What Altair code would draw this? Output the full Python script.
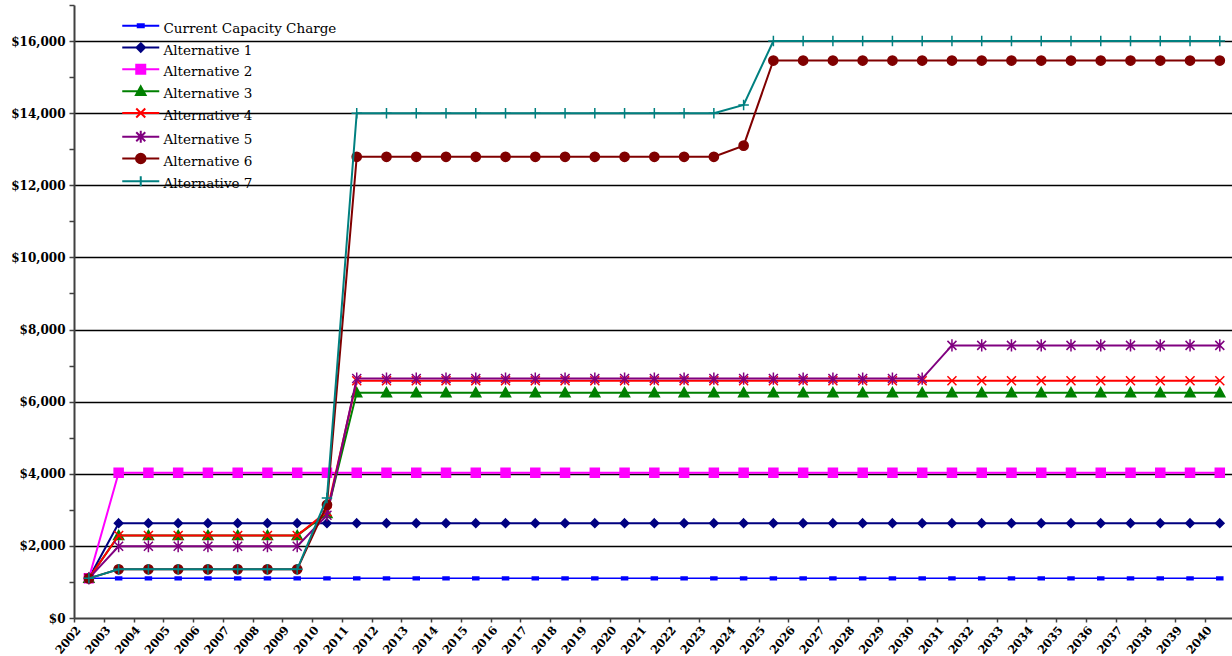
import altair as alt
import pandas as pd

# Capacity charge by year and alternative
years = list(range(2002, 2041))

series_names = [
    "Current Capacity Charge",
    "Alternative 1",
    "Alternative 2",
    "Alternative 3",
    "Alternative 4",
    "Alternative 5",
    "Alternative 6",
    "Alternative 7",
]

current_capacity = [1100, 1100, 1100, 1100, 1100, 1100, 1100, 1100, 1100, 1100,
                    1100, 1100, 1100, 1100, 1100, 1100, 1100, 1100, 1100, 1100,
                    1100, 1100, 1100, 1100, 1100, 1100, 1100, 1100, 1100, 1100,
                    1100, 1100, 1100, 1100, 1100, 1100, 1100, 1100, 1100]
alternative_1 = [1100, 2630, 2630, 2630, 2630, 2630, 2630, 2630, 2630, 2630,
                 2630, 2630, 2630, 2630, 2630, 2630, 2630, 2630, 2630, 2630,
                 2630, 2630, 2630, 2630, 2630, 2630, 2630, 2630, 2630, 2630,
                 2630, 2630, 2630, 2630, 2630, 2630, 2630, 2630, 2630]
alternative_2 = [1100, 4030, 4030, 4030, 4030, 4030, 4030, 4030, 4030, 4030,
                 4030, 4030, 4030, 4030, 4030, 4030, 4030, 4030, 4030, 4030,
                 4030, 4030, 4030, 4030, 4030, 4030, 4030, 4030, 4030, 4030,
                 4030, 4030, 4030, 4030, 4030, 4030, 4030, 4030, 4030]
alternative_3 = [1100, 2290, 2290, 2290, 2290, 2290, 2290, 2290, 2900, 6250,
                 6250, 6250, 6250, 6250, 6250, 6250, 6250, 6250, 6250, 6250,
                 6250, 6250, 6250, 6250, 6250, 6250, 6250, 6250, 6250, 6250,
                 6250, 6250, 6250, 6250, 6250, 6250, 6250, 6250, 6250]
alternative_4 = [1100, 2290, 2290, 2290, 2290, 2290, 2290, 2290, 2950, 6580,
                 6580, 6580, 6580, 6580, 6580, 6580, 6580, 6580, 6580, 6580,
                 6580, 6580, 6580, 6580, 6580, 6580, 6580, 6580, 6580, 6580,
                 6580, 6580, 6580, 6580, 6580, 6580, 6580, 6580, 6580]
alternative_5 = [1100, 1990, 1990, 1990, 1990, 1990, 1990, 1990, 2850, 6640,
                 6640, 6640, 6640, 6640, 6640, 6640, 6640, 6640, 6640, 6640,
                 6640, 6640, 6640, 6640, 6640, 6640, 6640, 6640, 6640, 7560,
                 7560, 7560, 7560, 7560, 7560, 7560, 7560, 7560, 7560]
alternative_6 = [1100, 1350, 1350, 1350, 1350, 1350, 1350, 1350, 3140, 12790,
                 12790, 12790, 12790, 12790, 12790, 12790, 12790, 12790, 12790, 12790,
                 12790, 12790, 13100, 15460, 15460, 15460, 15460, 15460, 15460, 15460,
                 15460, 15460, 15460, 15460, 15460, 15460, 15460, 15460, 15460]
alternative_7 = [1100, 1350, 1350, 1350, 1350, 1350, 1350, 1350, 3330, 14000,
                 14000, 14000, 14000, 14000, 14000, 14000, 14000, 14000, 14000, 14000,
                 14000, 14000, 14230, 16000, 16000, 16000, 16000, 16000, 16000, 16000,
                 16000, 16000, 16000, 16000, 16000, 16000, 16000, 16000, 16000]

all_series = [current_capacity, alternative_1, alternative_2, alternative_3,
              alternative_4, alternative_5, alternative_6, alternative_7]

# Per-series styling
colors = ["#0000FF", "#000080", "#FF00FF", "#008000",
          "#FF0000", "#800080", "#800000", "#008080"]
CIRCLE = "M-1,0A1,1,0,1,0,1,0A1,1,0,1,0,-1,0Z"
marker_paths = [
    "M-1,-0.45L1,-0.45L1,0.45L-1,0.45Z",
    "M0,-1L1,0L0,1L-1,0Z",
    "M-1,-1L1,-1L1,1L-1,1Z",
    "M0,-1L1,0.8L-1,0.8Z",
    "M-1,-1L1,1M-1,1L1,-1",
    "M-1,-1L1,1M-1,1L1,-1M0,-1.35L0,1.35",
    CIRCLE,
    "M-1,0L1,0M0,-1L0,1",
]
marker_sizes = [36, 72, 81, 100, 81, 81, 85, 110]
marker_filled = [True, True, True, True, False, False, True, False]
line_widths = [1.5, 2, 2, 2, 2, 2, 2, 2]


def key_path(points_spec):
    """Legend key: a line segment with a marker, raised a little to sit level with its label."""
    c = -0.6  # vertical centre of the key, in symbol units
    out = f"M-3.7,{c}L3.7,{c}"
    for cmd, x, y in points_spec:
        if cmd == "A":
            out += f"A{x},{x},0,1,0,{y},{c}"
        else:
            out += f"{cmd}{x},{round(c + y, 3)}"
    return out


legend_paths = [
    key_path([("M", -0.6, -0.28), ("L", 0.6, -0.28), ("L", 0.6, 0.28), ("L", -0.6, 0.28)]) + "Z",
    key_path([("M", 0, -0.85), ("L", 0.85, 0), ("L", 0, 0.85), ("L", -0.85, 0)]) + "Z",
    key_path([("M", -0.9, -0.9), ("L", 0.9, -0.9), ("L", 0.9, 0.9), ("L", -0.9, 0.9)]) + "Z",
    key_path([("M", 0, -0.95), ("L", 0.95, 0.75), ("L", -0.95, 0.75)]) + "Z",
    key_path([("M", -0.9, -0.9), ("L", 0.9, 0.9), ("M", -0.9, 0.9), ("L", 0.9, -0.9)]),
    key_path([("M", -0.9, -0.9), ("L", 0.9, 0.9), ("M", -0.9, 0.9), ("L", 0.9, -0.9),
              ("M", 0, -1.2), ("L", 0, 1.2)]),
    key_path([("M", -0.95, 0), ("A", 0.95, 0.95), ("A", 0.95, -0.95)]) + "Z",
    key_path([("M", 0, -1), ("L", 0, 1)]),
]
legend_fills = [c if f else "transparent" for c, f in zip(colors, marker_filled)]

rows = []
for name, values in zip(series_names, all_series):
    for yr, v in zip(years, values):
        rows.append({"series": name, "year": yr, "cost": v})
df = pd.DataFrame(rows)

FONT = "DejaVu Serif"

x_enc = alt.X(
    "pos:Q",
    scale=alt.Scale(domain=[2002, 2040.91], nice=False, zero=False),
    axis=alt.Axis(
        title="", values=years, format="d", grid=False,
        labelAngle=-50, labelAlign="right", labelBaseline="top",
        labelFont=FONT, labelFontWeight="bold", labelFontSize=11.5,
        labelColor="#000000", labelOverlap=False, labelFlush=False,
        labelPadding=2, tickSize=4, tickColor="#404040", tickWidth=1.5,
        domainColor="#404040", domainWidth=2,
    ),
)
y_enc = alt.Y(
    "cost:Q",
    scale=alt.Scale(domain=[0, 17000], nice=False, zero=True),
    axis=alt.Axis(
        title="", values=list(range(0, 17001, 1000)),
        labelExpr="datum.value % 2000 === 0 ? '$' + format(datum.value, ',') : ''",
        labelFont=FONT, labelFontWeight="bold", labelFontSize=12,
        labelColor="#000000", labelPadding=4, labelOverlap=False,
        tickSize=5, tickColor="#404040", tickWidth=1.5,
        domainColor="#404040", domainWidth=2,
        grid=True, gridColor="#000000", gridWidth=1.4,
        gridOpacity={"condition": {"test": "datum.value % 2000 === 0 && datum.value > 0",
                                   "value": 1}, "value": 0},
    ),
)

base = alt.Chart(df).transform_calculate(pos="datum.year + 0.5")

layers = []
for i, name in enumerate(series_names):
    sub = base.transform_filter(alt.datum.series == name)
    layers.append(
        sub.mark_line(color=colors[i], strokeWidth=line_widths[i]).encode(x=x_enc, y=y_enc)
    )
    layers.append(
        sub.mark_point(
            shape=marker_paths[i], size=marker_sizes[i], opacity=1,
            stroke=colors[i], strokeWidth=1.5,
            fill=colors[i] if marker_filled[i] else "transparent",
        ).encode(x=x_enc, y=y_enc)
    )

legend_def = alt.Legend(
    title="", orient="none", legendX=60, legendY=17, padding=0,
    symbolSize=100, symbolStrokeWidth=2, symbolOpacity=1,
    labelFont=FONT, labelFontSize=13.5, labelColor="#000000",
    labelOffset=16, rowPadding=2.8, titlePadding=0, labelLimit=400,
)
legend_layer = base.transform_filter("false").mark_point(opacity=1).encode(
    stroke=alt.Stroke("series:N", scale=alt.Scale(domain=series_names, range=colors),
                      legend=legend_def),
    fill=alt.Fill("series:N", scale=alt.Scale(domain=series_names, range=legend_fills),
                  legend=legend_def),
    shape=alt.Shape("series:N", scale=alt.Scale(domain=series_names, range=legend_paths),
                    legend=legend_def),
)
layers.append(legend_layer)

chart = alt.layer(*layers).properties(
    width=1158,
    height=613,
    autosize=alt.AutoSizeParams(type="none"),
    padding={"left": 74, "top": 5, "right": 0, "bottom": 38},
    background="#FFFFFF",
).configure_view(strokeWidth=0)

chart.save("out.html", embed_options={"renderer": "svg", "actions": False})
